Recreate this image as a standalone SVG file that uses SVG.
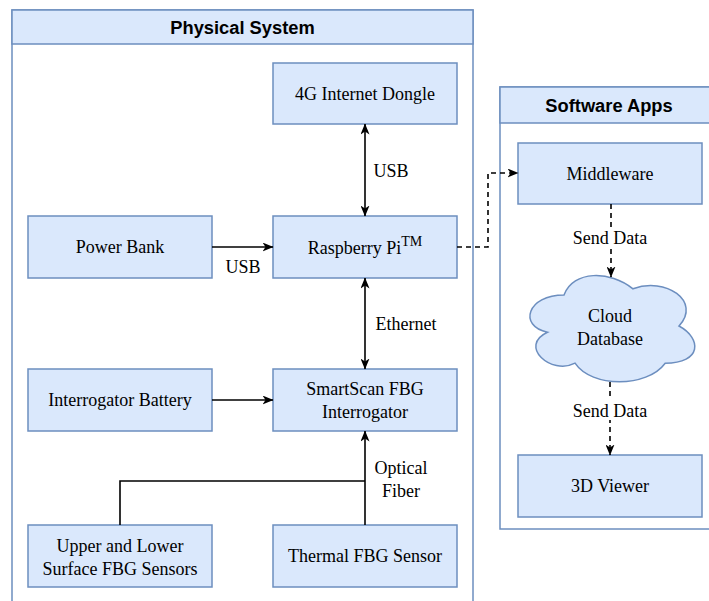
<svg xmlns="http://www.w3.org/2000/svg" width="709" height="601" viewBox="0 0 709 601">
<style>
.box{fill:#dae8fc;stroke:#6c8ebf;stroke-width:1.5}
.cont{fill:#ffffff;stroke:#6c8ebf;stroke-width:1.5}
.t{font-family:"Liberation Serif","Times New Roman",serif;font-size:18px;fill:#000;text-anchor:middle}
.h{font-family:"Liberation Sans",Arial,sans-serif;font-size:18.3px;font-weight:bold;fill:#000;text-anchor:middle}
.ln{fill:none;stroke:#000;stroke-width:1.6}
.dl{fill:none;stroke:#000;stroke-width:1.6;stroke-dasharray:5 4}
</style>
<defs>
<marker id="arr" markerUnits="userSpaceOnUse" viewBox="0 0 11 9" markerWidth="11" markerHeight="9" refX="10.5" refY="4.5" orient="auto-start-reverse">
<path d="M0,0 L11,4.5 L0,9 L3,4.5 Z" fill="#000"/>
</marker>
</defs>
<g id="physical-system">
<rect class="cont" x="12" y="10" width="461" height="610"/>
<rect class="box" x="12" y="10" width="461" height="34"/>
<text class="h" x="242.5" y="33.5">Physical System</text>
</g>
<g id="software-apps">
<rect class="cont" x="500" y="87" width="220" height="442"/>
<rect class="box" x="500" y="87" width="220" height="36"/>
<text class="h" x="609" y="111.5">Software Apps</text>
</g>
<g id="dongle">
<rect class="box" x="273" y="63" width="184" height="61"/>
<text class="t" x="365" y="100">4G Internet Dongle</text>
</g>
<g id="power-bank">
<rect class="box" x="28" y="216" width="184" height="62"/>
<text class="t" x="120" y="253">Power Bank</text>
</g>
<g id="raspberry-pi">
<rect class="box" x="273" y="216" width="184" height="62"/>
<text class="t" x="365" y="254">Raspberry Pi<tspan font-size="14" dy="-8">TM</tspan></text>
</g>
<g id="interrogator-battery">
<rect class="box" x="28" y="369" width="184" height="62"/>
<text class="t" x="120" y="406">Interrogator Battery</text>
</g>
<g id="smartscan">
<rect class="box" x="273" y="369" width="184" height="62"/>
<text class="t" x="365" y="395">SmartScan FBG</text>
<text class="t" x="365" y="418">Interrogator</text>
</g>
<g id="upper-lower">
<rect class="box" x="28" y="525" width="184" height="62"/>
<text class="t" x="120" y="552">Upper and Lower</text>
<text class="t" x="120" y="575">Surface FBG Sensors</text>
</g>
<g id="thermal">
<rect class="box" x="273" y="525" width="184" height="62"/>
<text class="t" x="365" y="562">Thermal FBG Sensor</text>
</g>
<g id="middleware">
<rect class="box" x="518" y="143" width="184" height="61"/>
<text class="t" x="610" y="180">Middleware</text>
</g>
<g id="cloud-db">
<path class="box" d="M564,295 C527.2,295 518,326 547.44,332.2 C518,345.84 551.12,375.6 575.04,363.2 C591.6,388 646.8,388 665.2,363.2 C702,363.2 702,338.4 679,326 C702,301.2 665.2,276.4 633,288.8 C610,270.2 573.2,270.2 564,295 Z"/>
<text class="t" x="610" y="322">Cloud</text>
<text class="t" x="610" y="345">Database</text>
</g>
<g id="viewer">
<rect class="box" x="518" y="455" width="184" height="62"/>
<text class="t" x="610" y="492">3D Viewer</text>
</g>
<g id="connectors">
<line class="ln" x1="365" y1="124" x2="365" y2="216" marker-start="url(#arr)" marker-end="url(#arr)"/>
<line class="ln" x1="212" y1="247" x2="273" y2="247" marker-end="url(#arr)"/>
<line class="ln" x1="365" y1="278" x2="365" y2="369" marker-start="url(#arr)" marker-end="url(#arr)"/>
<line class="ln" x1="212" y1="400" x2="273" y2="400" marker-end="url(#arr)"/>
<line class="ln" x1="365" y1="525" x2="365" y2="431" marker-end="url(#arr)"/>
<polyline class="ln" points="120,525 120,481 365,481"/>
<polyline class="dl" points="457,247 488,247 488,173 518,173" marker-end="url(#arr)"/>
<line class="dl" x1="611" y1="204" x2="611" y2="277" marker-end="url(#arr)"/>
<line class="dl" x1="610" y1="382" x2="610" y2="455" marker-end="url(#arr)"/>
<rect x="569" y="227" width="84" height="20" fill="#fff"/>
<rect x="569" y="400" width="84" height="20" fill="#fff"/>
<text class="t" x="391" y="177">USB</text>
<text class="t" x="243" y="273">USB</text>
<text class="t" x="406" y="330">Ethernet</text>
<text class="t" x="401" y="474">Optical</text>
<text class="t" x="401" y="497">Fiber</text>
<text class="t" x="610" y="244">Send Data</text>
<text class="t" x="610" y="417">Send Data</text>
</g>
</svg>
